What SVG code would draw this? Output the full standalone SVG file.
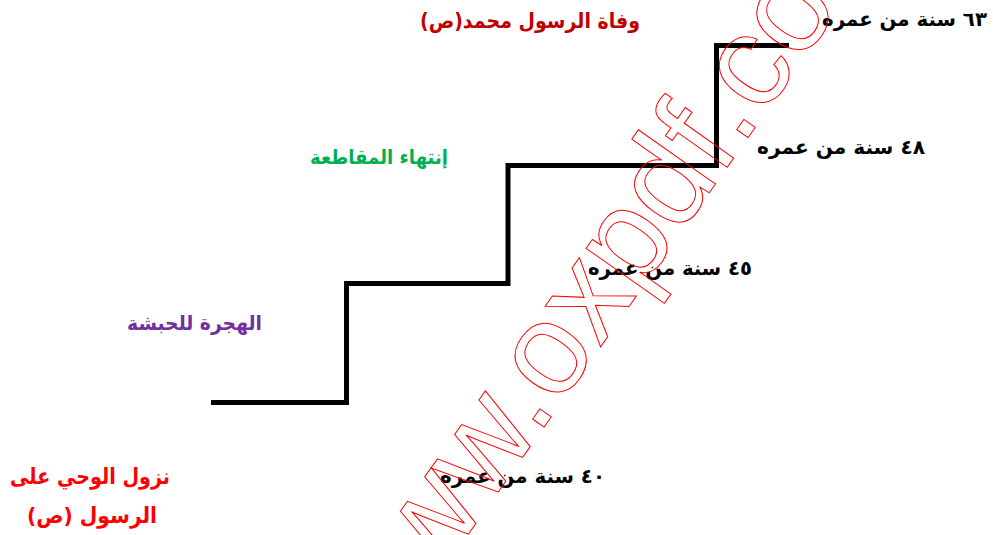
<svg xmlns="http://www.w3.org/2000/svg" width="993" height="535" viewBox="0 0 993 535">
<style>
text{font-family:"DejaVu Sans","Liberation Sans",sans-serif;font-weight:bold;direction:rtl;text-anchor:middle;}
.age{font-size:20px;fill:#000;}
.wm{font-family:"Liberation Sans",Arial,sans-serif;font-weight:normal;font-size:130px;fill:none;stroke:#ff0000;stroke-width:1;direction:ltr;text-anchor:start;}
</style>
<rect width="993" height="535" fill="#fff"/>
<g id="connectors">
<path d="M211 402.5 H346.5 V283.5 H508 V165.5 H716.5 V45.5 H789" fill="none" stroke="#000" stroke-width="5"/>
</g>
<g id="n-63"><text class="age" x="904.5" y="26" textLength="165" lengthAdjust="spacingAndGlyphs">٦٣ سنة من عمره</text></g>
<g id="n-death"><text x="530" y="28" font-size="21" fill="#C00000" textLength="220" lengthAdjust="spacingAndGlyphs">وفاة الرسول محمد(ص)</text></g>
<g id="n-48"><text class="age" x="841" y="154" textLength="168" lengthAdjust="spacingAndGlyphs">٤٨ سنة من عمره</text></g>
<g id="n-boycott"><text x="379" y="164" font-size="20" fill="#00B050" textLength="138" lengthAdjust="spacingAndGlyphs">إنتهاء المقاطعة</text></g>
<g id="n-45"><text class="age" x="670" y="275" textLength="164" lengthAdjust="spacingAndGlyphs">٤٥ سنة من عمره</text></g>
<g id="n-hijra"><text x="194.5" y="330" font-size="20" fill="#7030A0" textLength="135" lengthAdjust="spacingAndGlyphs">الهجرة للحبشة</text></g>
<g id="n-40"><text class="age" x="522.5" y="483" textLength="165" lengthAdjust="spacingAndGlyphs">٤٠ سنة من عمره</text></g>
<g id="n-revelation">
<text x="90" y="484" font-size="22" fill="#FF0000" textLength="160" lengthAdjust="spacingAndGlyphs">نزول الوحي على</text>
<text x="92" y="523" font-size="22" fill="#FF0000" textLength="130" lengthAdjust="spacingAndGlyphs">الرسول (ص)</text>
</g>
<text class="wm" transform="translate(379 661) rotate(-54.8)">www.oxpdf.com</text>
</svg>
